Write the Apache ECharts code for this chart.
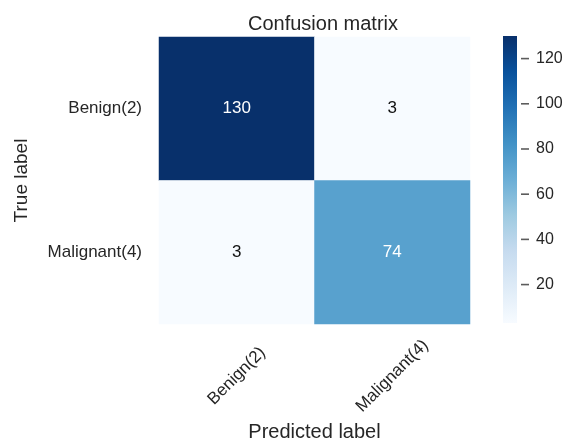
<!DOCTYPE html>
<html>
<head>
<meta charset="utf-8">
<script src="https://cdn.jsdelivr.net/npm/echarts@6/dist/echarts.min.js"></script>
<style>
  html, body { margin: 0; padding: 0; background: #fff; }
  #main { width: 563px; height: 439px; }
</style>
</head>
<body>
<div id="main"></div>
<script>
// categories (predicted = columns, true = rows)
var predCats = ['Benign(2)', 'Malignant(4)'];
var trueCats = ['Benign(2)', 'Malignant(4)'];
// confusion matrix counts, rows = true label
var counts = [
  [130, 3],
  [3, 74]
];
// colorbar ticks
var barTicks = [20, 40, 60, 80, 100, 120];
// matplotlib "Blues"
var blues = ['#f7fbff', '#deebf7', '#c6dbef', '#9ecae1', '#6baed6', '#4292c6', '#2171b5', '#08519c', '#08306b'];

var flat = [].concat.apply([], counts);
var vmin = Math.min.apply(null, flat);
var vmax = Math.max.apply(null, flat);
var thresh = vmax / 2;

var cells = [];
counts.forEach(function (row, i) {
  row.forEach(function (v, j) {
    cells.push({
      value: [j, i, v],
      label: { color: v > thresh ? '#ffffff' : '#111111' }
    });
  });
});

var stops = blues.map(function (c, k) {
  return { offset: 1 - k / (blues.length - 1), color: c };
});

var font = 'Liberation Sans, Arial, sans-serif';
var txt = '#262626';
var chart = echarts.init(document.getElementById('main'));
var option = {
  animation: false,
  textStyle: { fontFamily: font },
  title: {
    text: 'Confusion matrix',
    left: 318,
    textAlign: 'center',
    top: 9,
    textStyle: { fontSize: 20, fontWeight: 'normal', color: txt, fontFamily: font }
  },
  grid: [
    { left: 159, top: 37, width: 311, height: 287, outerBoundsMode: 'none' },
    { left: 503, top: 36, width: 14, height: 287, outerBoundsMode: 'none' }
  ],
  xAxis: [
    {
      type: 'category',
      gridIndex: 0,
      data: predCats,
      name: 'Predicted label',
      nameLocation: 'middle',
      nameGap: 95,
      nameTextStyle: { fontSize: 20, color: txt },
      axisLine: { show: false },
      axisTick: { show: false },
      splitLine: { show: false },
      axisLabel: {
        rotate: 45,
        align: 'center',
        verticalAlign: 'middle',
        margin: 52,
        fontSize: 17,
        color: txt
      }
    },
    {
      type: 'value',
      gridIndex: 1,
      min: 0,
      max: 1,
      show: false
    }
  ],
  yAxis: [
    {
      type: 'category',
      gridIndex: 0,
      data: trueCats,
      inverse: true,
      name: 'True label',
      nameLocation: 'middle',
      nameGap: 128,
      nameTextStyle: { fontSize: 19, color: txt },
      axisLine: { show: false },
      axisTick: { show: false },
      splitLine: { show: false },
      axisLabel: { margin: 17, fontSize: 17, color: txt }
    },
    {
      type: 'value',
      gridIndex: 1,
      position: 'right',
      min: vmin,
      max: vmax,
      axisLine: { show: false },
      splitLine: { show: false },
      axisTick: { show: false },
      axisLabel: {
        customValues: barTicks,
        margin: 19,
        fontSize: 16,
        color: txt
      }
    }
  ],
  visualMap: {
    show: false,
    seriesIndex: 0,
    min: vmin,
    max: vmax,
    dimension: 2,
    inRange: { color: blues }
  },
  series: [
    {
      type: 'heatmap',
      xAxisIndex: 0,
      yAxisIndex: 0,
      data: cells,
      label: { show: true, fontSize: 17 },
      emphasis: { disabled: true }
    },
    {
      type: 'custom',
      xAxisIndex: 1,
      yAxisIndex: 1,
      data: [[vmin, vmax]],
      renderItem: function (params, api) {
        var p0 = api.coord([0, api.value(1)]);
        var p1 = api.coord([1, api.value(0)]);
        return {
          type: 'rect',
          shape: { x: p0[0], y: p0[1], width: p1[0] - p0[0], height: p1[1] - p0[1] },
          style: { fill: new echarts.graphic.LinearGradient(0, 0, 0, 1, stops) }
        };
      }
    },
    {
      // colorbar tick marks, placed at the tick values on the bar's axis
      type: 'scatter',
      xAxisIndex: 1,
      yAxisIndex: 1,
      data: barTicks.map(function (v) { return [1, v]; }),
      symbol: 'rect',
      symbolSize: [8, 1.6],
      symbolOffset: [8, 0],
      itemStyle: { color: '#333333' },
      clip: false,
      silent: true
    }
  ]
};
chart.setOption(option);
</script>
</body>
</html>
